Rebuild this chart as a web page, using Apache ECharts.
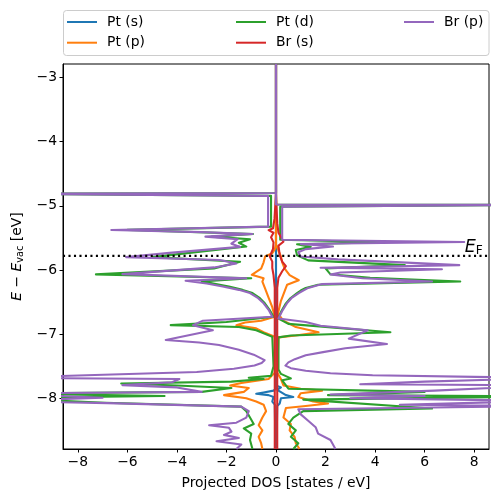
<!DOCTYPE html>
<html><head><meta charset="utf-8">
<script src="https://cdn.jsdelivr.net/npm/echarts@6/dist/echarts.min.js"></script>
<style>html,body{margin:0;padding:0;background:#fff}#c{width:498px;height:502px}</style>
</head><body><div id="c"></div>
<script>
// ---- data: pairs of [energy (eV), |projected DOS| (states/eV)] ----
const speciesNames = ['Pt (s)', 'Pt (p)', 'Pt (d)', 'Br (s)', 'Br (p)'];
const speciesColors = ['#1f77b4', '#ff7f0e', '#2ca02c', '#d62728', '#9467bd'];

const ptS_down = [[-2.79,0],[-7.85,0],[-7.88,0.1],[-7.91,0.5],[-7.93,0.8],[-7.95,0.3],[-7.98,0.1],[-8.05,0.15],[-8.1,0.05],[-8.79,0.02]];
const ptS_up   = [[-2.79,0],[-7.8,0],[-7.83,0.2],[-7.87,0.05],[-7.95,0.4],[-7.98,0.7],[-8.0,0.2],[-8.08,0.15],[-8.12,0.05],[-8.79,0.02]];

const ptP_down = [[-2.79,0],[-5.6,0],[-5.68,0.05],[-5.74,0.15],[-5.79,0.44],[-5.88,0.5],[-5.98,0.6],[-6.075,0.98],[-6.13,0.5],[-6.18,0.55],[-6.28,0.45],[-6.43,0.3],[-6.58,0.15],[-6.73,0.05],[-6.79,0.6],[-6.82,1.25],[-6.86,1.6],[-6.91,0.8],[-6.97,0.5],[-7.04,0.05],[-7.6,0.05],[-7.7,0.3],[-7.76,1.4],[-7.8,1.85],[-7.84,1.1],[-7.9,1.3],[-7.95,2.1],[-8.0,1.2],[-8.05,0.8],[-8.1,0.5],[-8.2,0.4],[-8.3,0.55],[-8.42,0.7],[-8.5,0.55],[-8.6,0.7],[-8.7,0.6],[-8.79,0.55]];
const ptP_up   = [[-2.79,0],[-5.6,0],[-5.7,0.1],[-5.79,0.2],[-5.88,0.25],[-5.98,0.35],[-6.08,0.55],[-6.16,0.92],[-6.23,0.45],[-6.33,0.35],[-6.48,0.2],[-6.68,0.08],[-6.79,0.3],[-6.89,0.8],[-6.97,1.72],[-7.02,0.8],[-7.05,0.1],[-7.6,0.05],[-7.7,0.2],[-7.8,0.3],[-7.85,1.0],[-7.88,1.86],[-7.92,1.0],[-7.98,0.9],[-8.05,1.5],[-8.08,2.1],[-8.12,1.2],[-8.15,0.4],[-8.3,0.3],[-8.4,0.6],[-8.5,0.55],[-8.6,0.75],[-8.7,0.8],[-8.79,0.95]];

const ptD_down = [[-2.79,0],[-4.80,0],[-4.81,11],[-4.84,11],[-4.845,0.2],[-5.325,0.2],[-5.375,6.0],[-5.44,0.93],[-5.48,2.6],[-5.52,1.05],[-5.575,1.5],[-5.635,1.2],[-5.733,3.5],[-5.8,5.0],[-5.873,1.45],[-5.975,2.5],[-6.068,7.27],[-6.128,1.0],[-6.178,3.0],[-6.258,1.9],[-6.31,1.35],[-6.36,0.95],[-6.44,0.65],[-6.52,0.45],[-6.62,0.26],[-6.73,0.1],[-6.81,2.0],[-6.86,4.25],[-6.89,1.5],[-6.94,0.8],[-7.04,0.15],[-7.5,0.1],[-7.65,0.2],[-7.68,1.1],[-7.70,0.5],[-7.74,1.8],[-7.77,6.25],[-7.8,4.0],[-7.84,1.8],[-7.9,3.0],[-7.925,11],[-7.945,11],[-7.965,4.5],[-7.995,11],[-8.015,11],[-8.07,6.9],[-8.13,1.4],[-8.2,1.2],[-8.3,1.05],[-8.4,0.9],[-8.47,1.3],[-8.55,1.0],[-8.65,1.05],[-8.79,0.95]];
const ptD_up   = [[-2.79,0],[-4.98,0],[-4.985,11],[-5.01,11],[-5.015,0.17],[-5.53,0.17],[-5.568,4.4],[-5.6,0.85],[-5.64,1.4],[-5.69,0.8],[-5.77,0.85],[-5.85,1.3],[-5.925,5.2],[-5.975,2.0],[-6.068,2.2],[-6.12,3.8],[-6.18,7.44],[-6.23,1.7],[-6.28,1.2],[-6.32,1.0],[-6.36,0.85],[-6.44,0.58],[-6.52,0.4],[-6.64,0.22],[-6.755,0.08],[-6.84,0.5],[-6.97,4.62],[-7.02,0.6],[-7.05,0.1],[-7.55,0.1],[-7.62,0.2],[-7.69,0.6],[-7.72,0.25],[-7.85,0.5],[-7.9,6.0],[-7.95,2.1],[-7.97,11],[-7.99,11],[-8.02,1.1],[-8.16,6.3],[-8.2,1.1],[-8.3,0.7],[-8.4,0.5],[-8.5,0.8],[-8.6,0.6],[-8.7,0.9],[-8.79,0.7]];

const brS_down = [[-2.79,0],[-4.8,0],[-4.83,0.05],[-5.2,0.06],[-5.35,0.12],[-5.38,0.3],[-5.42,0.1],[-5.49,0.2],[-5.57,0.1],[-5.67,0.12],[-5.79,0.25],[-5.87,0.15],[-5.97,0.15],[-6.08,0.1],[-6.28,0.05],[-8.79,0.05]];
const brS_up   = [[-2.79,0],[-4.8,0],[-4.83,0.04],[-5.27,0.05],[-5.42,0.1],[-5.52,0.25],[-5.56,0.3],[-5.62,0.1],[-5.77,0.15],[-5.87,0.25],[-5.94,0.4],[-6.02,0.25],[-6.12,0.1],[-6.28,0.05],[-8.79,0.05]];

const brP_down = [[-2.79,0],[-4.80,0],[-4.81,11],[-4.84,11],[-4.845,0.32],[-5.325,0.32],[-5.377,6.65],[-5.41,3.0],[-5.44,0.95],[-5.48,2.85],[-5.52,1.55],[-5.59,1.8],[-5.64,1.45],[-5.733,4.3],[-5.80,6.05],[-5.845,2.27],[-5.9,1.6],[-5.96,2.5],[-6.065,6.2],[-6.128,1.2],[-6.168,3.65],[-6.21,2.8],[-6.258,2.15],[-6.31,1.5],[-6.36,1.05],[-6.44,0.72],[-6.52,0.5],[-6.62,0.3],[-6.73,0.15],[-6.79,2.95],[-6.86,3.35],[-6.94,2.55],[-7.09,4.45],[-7.13,3.1],[-7.17,2.3],[-7.245,1.5],[-7.32,0.9],[-7.405,0.46],[-7.45,0.58],[-7.49,0.87],[-7.54,1.7],[-7.59,3.2],[-7.68,11],[-7.695,11],[-7.70,3.9],[-7.75,4.2],[-7.795,6.2],[-7.83,4.0],[-7.9,3.0],[-7.925,11],[-7.945,11],[-7.975,8.0],[-7.99,7.0],[-8.01,8.5],[-8.045,11],[-8.06,11],[-8.075,6.8],[-8.13,1.4],[-8.2,1.1],[-8.3,1.2],[-8.38,1.6],[-8.42,2.7],[-8.46,1.9],[-8.52,1.8],[-8.57,2.1],[-8.62,1.5],[-8.67,2.4],[-8.72,1.4],[-8.79,1.6]];
const brP_up   = [[-2.79,0],[-4.98,0],[-4.985,11],[-5.01,11],[-5.015,0.25],[-5.53,0.25],[-5.563,7.6],[-5.595,1.0],[-5.635,2.3],[-5.675,1.2],[-5.725,0.9],[-5.79,1.0],[-5.835,2.5],[-5.925,7.4],[-5.965,1.8],[-5.99,6.7],[-6.04,2.6],[-6.07,2.2],[-6.13,3.5],[-6.18,6.3],[-6.22,1.86],[-6.28,1.3],[-6.32,1.1],[-6.36,0.92],[-6.44,0.62],[-6.52,0.44],[-6.64,0.25],[-6.755,0.1],[-6.81,1.2],[-6.87,1.8],[-6.94,3.7],[-7.07,2.94],[-7.155,4.48],[-7.175,4.48],[-7.22,2.8],[-7.28,1.9],[-7.33,1.2],[-7.39,0.76],[-7.44,0.5],[-7.49,0.38],[-7.53,0.6],[-7.57,1.2],[-7.61,2.2],[-7.64,3.9],[-7.685,11],[-7.705,11],[-7.74,6.0],[-7.78,3.4],[-7.8,11],[-7.82,11],[-7.88,6.4],[-7.94,2.2],[-7.965,6.0],[-8.0,3.0],[-8.04,11],[-8.07,11],[-8.1,5.0],[-8.12,11],[-8.135,11],[-8.17,0.9],[-8.25,1.0],[-8.35,1.3],[-8.45,1.6],[-8.55,1.7],[-8.65,2.2],[-8.79,2.4]];

const E_F = -5.78;
const xRange = [-8.6, 8.6];
const yRange = [-8.79, -2.79];
const xTicks = [-8, -6, -4, -2, 0, 2, 4, 6, 8];
const yTicks = [-8, -7, -6, -5, -4, -3];

// ---- build chart ----
const pdos = [
  [ptS_down, ptS_up],
  [ptP_down, ptP_up],
  [ptD_down, ptD_up],
  [brS_down, brS_up],
  [brP_down, brP_up]
];
const FONT = 'DejaVu Sans';
const FS = 13.9;
const LW = 2.08;
const fmtMinus = v => (v < 0 ? '\u2212' + Math.abs(v) : String(v));

const series = [];
pdos.forEach((pair, i) => {
  const [dn, up] = pair;
  [[dn, -1], [up, 1]].forEach(([arr, sign]) => {
    series.push({
      name: speciesNames[i],
      type: 'line',
      data: arr.map(([e, v]) => [sign * v, e]),
      symbol: 'none',
      showSymbol: false,
      clip: true,
      lineStyle: { color: speciesColors[i], width: LW, join: 'round' },
      itemStyle: { color: speciesColors[i] },
      z: 2 + i,
      emphasis: { disabled: true },
      silent: true
    });
  });
});

series.push({
  name: 'EF',
  type: 'line',
  data: [[xRange[0], E_F], [xRange[1], E_F]],
  symbol: 'none',
  clip: true,
  z: 10,
  silent: true,
  lineStyle: { color: '#000', width: LW, type: [2.08, 3.4] },
  markPoint: {
    symbol: 'circle',
    symbolSize: 0,
    silent: true,
    data: [{ coord: [7.62, E_F] }],
    label: {
      show: true,
      position: [0, 0],
      align: 'left',
      verticalAlign: 'bottom',
      offset: [0, 1],
      formatter: '{i|E}{s|F}',
      rich: {
        i: { fontFamily: FONT, fontStyle: 'italic', fontSize: 17.5, color: '#000' },
        s: { fontFamily: FONT, fontSize: 12.2, color: '#000', padding: [7, 0, 0, 0] }
      }
    }
  }
});

const legendPos = [
  { name: 'Pt (s)', left: 67, top: 14 },
  { name: 'Pt (p)', left: 67, top: 34.7 },
  { name: 'Pt (d)', left: 236, top: 14 },
  { name: 'Br (s)', left: 236, top: 34.7 },
  { name: 'Br (p)', left: 404, top: 14 }
];
const legends = legendPos.map(p => ({
  left: p.left, top: p.top, padding: 0,
  data: [p.name], icon: 'rect', itemWidth: 30, itemHeight: 2,
  selectedMode: false,
  textStyle: { fontFamily: FONT, fontSize: FS, color: '#000', lineHeight: 16, padding: [0, 0, 0, 5] }
}));

const chart = echarts.init(document.getElementById('c'), null, { renderer: 'canvas' });
chart.setOption({
  animation: false,
  backgroundColor: '#fff',
  graphic: [{
    type: 'rect', z: 0,
    shape: { x: 63.5, y: 10.5, width: 425.5, height: 45, r: 3 },
    style: { fill: '#fff', stroke: '#cccccc', lineWidth: 1 }
  }],
  legend: legends,
  grid: { left: 63, right: 9, top: 64, bottom: 53, show: true, borderColor: '#000', borderWidth: 1, backgroundColor: 'transparent' },
  xAxis: {
    type: 'value', min: xRange[0], max: xRange[1],
    name: 'Projected DOS [states / eV]', nameLocation: 'middle', nameGap: 27,
    nameTextStyle: { fontFamily: FONT, fontSize: FS, color: '#000' },
    axisLine: { show: true, onZero: false, lineStyle: { color: '#000', width: 1 } },
    axisTick: { show: true, length: 3.5, customValues: xTicks, lineStyle: { color: '#000' } },
    axisLabel: { customValues: xTicks, margin: 6, fontFamily: FONT, fontSize: FS, color: '#000', formatter: fmtMinus },
    splitLine: { show: false }
  },
  yAxis: {
    type: 'value', min: yRange[0], max: yRange[1],
    name: '{i|E} \u2212 {i|E}{s|vac} [eV]', nameLocation: 'middle', nameGap: 38, nameRotate: 90,
    nameTextStyle: {
      fontFamily: FONT, fontSize: FS, color: '#000',
      rich: {
        i: { fontFamily: FONT, fontStyle: 'italic', fontSize: FS, color: '#000' },
        s: { fontFamily: FONT, fontSize: 9.7, color: '#000', padding: [5, 0, 0, 0] }
      }
    },
    axisLine: { show: true, onZero: false, lineStyle: { color: '#000', width: 1 } },
    axisTick: { show: true, length: 3.5, customValues: yTicks, lineStyle: { color: '#000' } },
    axisLabel: { customValues: yTicks, margin: 6, fontFamily: FONT, fontSize: FS, color: '#000', formatter: fmtMinus },
    splitLine: { show: false }
  },
  series: series
});
</script>
</body></html>
